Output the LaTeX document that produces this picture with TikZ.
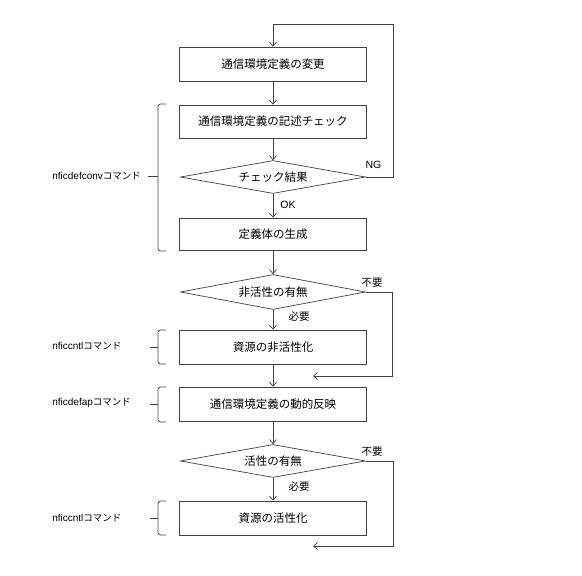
\documentclass[tikz,border=0pt]{standalone}
\usepackage{fontspec}
\setmainfont{Liberation Sans}
\newfontfamily\cjk{Noto Sans CJK JP}
\usetikzlibrary{shapes.geometric,arrows.meta,calc}
\begin{document}
\begin{tikzpicture}[x=1pt,y=-1pt,
  line width=0.7pt,
  procbox/.style={draw=black!75,rectangle,minimum width=187pt,minimum height=34pt,inner sep=0pt,font=\cjk\fontsize{11.5}{13}\selectfont},
  decbox/.style={draw=black!75,diamond,aspect=5.5,minimum width=185pt,minimum height=34pt,inner sep=0pt,font=\cjk\fontsize{11.5}{13}\selectfont},
  flow/.style={draw=black!75,-{Straight Barb[length=4pt,width=7pt]}},
  lbl/.style={font=\fontsize{10.5}{12}\selectfont,inner sep=0pt},
  jlbl/.style={font=\cjk\fontsize{10.5}{12}\selectfont,inner sep=0pt},
  cmd/.style={anchor=west,inner sep=0pt,font=\fontsize{10}{12}\selectfont},
  brc/.style={draw=black!75,rounded corners=2.5pt},
  tick/.style={draw=black!75}
]
\useasboundingbox (0,0) rectangle (582,576);

\node[procbox] (b1) at (273,64) {通信環境定義の変更};
\node[procbox,minimum height=33pt] (b2) at (273,121.5) {通信環境定義の記述チェック};
\node[decbox,minimum height=33pt] (d1) at (273,177) {チェック結果};
\node[procbox,minimum height=32pt] (b3) at (273,234) {定義体の生成};
\node[decbox,minimum height=35pt] (d2) at (273,292) {非活性の有無};
\node[procbox] (b4) at (273,347) {資源の非活性化};
\node[procbox] (b5) at (273,404) {通信環境定義の動的反映};
\node[decbox,minimum height=33pt] (d3) at (273,461) {活性の有無};
\node[procbox] (b6) at (273,518) {資源の活性化};

\draw[flow] (b1) -- (b2);
\draw[flow] (b2) -- (d1);
\draw[flow] (d1) -- (b3);
\draw[flow] (b3) -- (d2);
\draw[flow] (d2) -- (b4);
\draw[flow] (b4) -- (b5);
\draw[flow] (b5) -- (d3);
\draw[flow] (d3) -- (b6);

\coordinate (ng) at (393,24);
\draw[flow] (d1.east) -- (d1.east -| ng) -- (ng) -- (b1.north |- ng) -- (b1.north);
\coordinate (s1) at (313,376);
\coordinate (s1r) at (392,376);
\draw[flow] (d2.east) -- (d2.east -| s1r) -- (s1r) -- (s1);
\coordinate (s2) at (313,546);
\coordinate (s2r) at (393,546);
\draw[flow] (d3.east) -- (d3.east -| s2r) -- (s2r) -- (s2);

\node[lbl] (ngl) at (373.5,165) {NG};
\node[lbl] (okl) at (288,205) {OK};
\node[jlbl] (fy1) at (372,283) {不要};
\node[jlbl] (hy1) at (299,317) {必要};
\node[jlbl] (fy2) at (372,452) {不要};
\node[jlbl] (hy2) at (299,487) {必要};

\node[cmd] (c1) at (52,176) {nficdefconv{\cjk\fontsize{9.5}{12}\selectfont コマンド}};
\node[cmd] (c2) at (52,346) {nficcntl{\cjk\fontsize{9.5}{12}\selectfont コマンド}};
\node[cmd] (c3) at (52,403) {nficdefap{\cjk\fontsize{9.5}{12}\selectfont コマンド}};
\node[cmd] (c4) at (52,518) {nficcntl{\cjk\fontsize{9.5}{12}\selectfont コマンド}};

% braces
\draw[brc] (166,104) -- (158,104) -- (158,251) -- (166,251);
\draw[tick] (158,176) -- (148,176);
\draw[brc] (166,330) -- (158,330) -- (158,364) -- (166,364);
\draw[tick] (158,347) -- (150,347);
\draw[brc] (166,387) -- (158,387) -- (158,422) -- (166,422);
\draw[tick] (158,404) -- (150,404);
\draw[brc] (166,501) -- (158,501) -- (158,535) -- (166,535);
\draw[tick] (158,518) -- (150,518);
\end{tikzpicture}
\end{document}
